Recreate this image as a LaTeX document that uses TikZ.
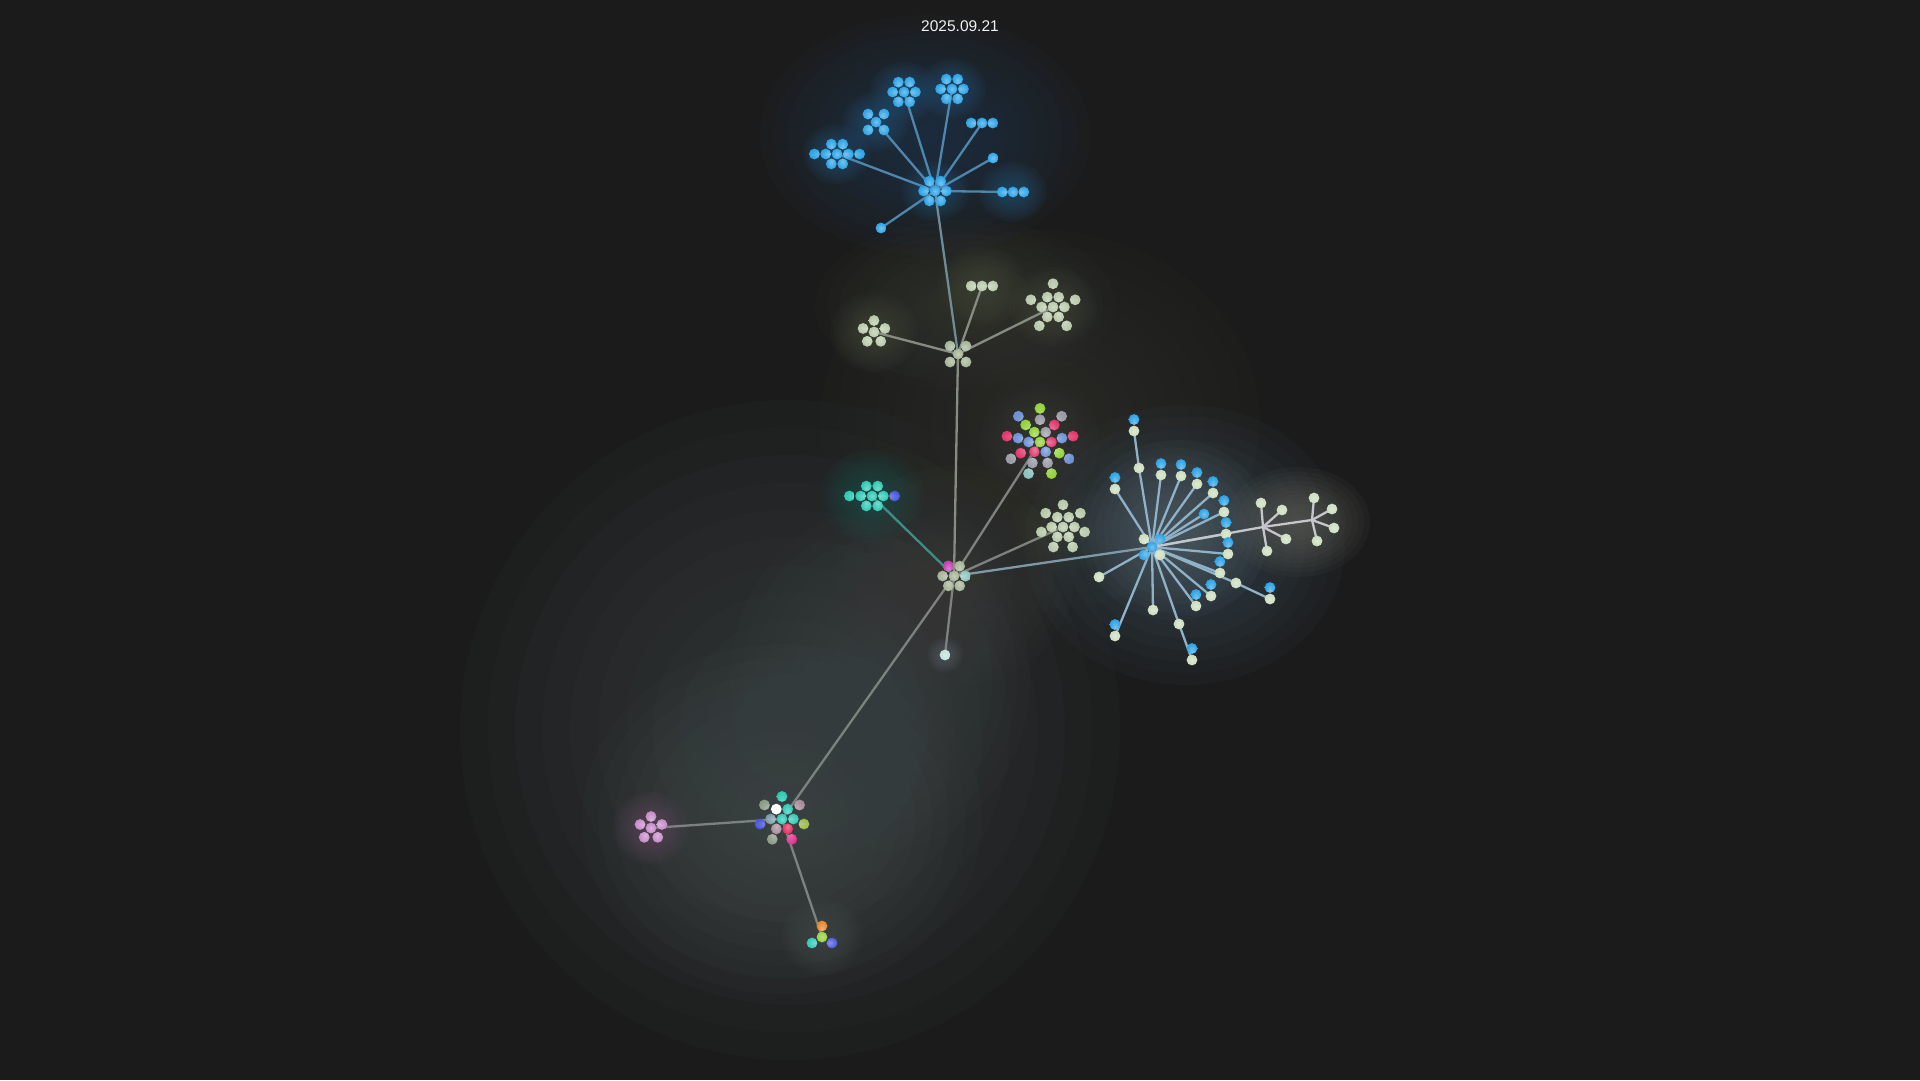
\documentclass[tikz,border=0pt]{standalone}
\usepackage{fontspec}
\setmainfont{Liberation Sans}

\definecolor{bg}{HTML}{1B1B1B}
\definecolor{skyb}{HTML}{2BA3E6}
\definecolor{sage}{HTML}{B8C9AA}
\definecolor{pale}{HTML}{CCDDBE}
\definecolor{hubg}{HTML}{A4B395}
\definecolor{tealb}{HTML}{2FC8B4}
\definecolor{indig}{HTML}{4B57DE}
\definecolor{limeb}{HTML}{95D23F}
\definecolor{rose}{HTML}{E2386E}
\definecolor{peri}{HTML}{6E92D4}
\definecolor{ash}{HTML}{9C9CA8}
\definecolor{mint}{HTML}{8CC4BE}
\definecolor{orchid}{HTML}{C68BC8}
\definecolor{magen}{HTML}{C53CB6}
\definecolor{ashg}{HTML}{8E9C88}
\definecolor{mauve}{HTML}{A88C9A}
\definecolor{bgrey}{HTML}{7A9BAA}
\definecolor{redp}{HTML}{E02C5C}
\definecolor{magp}{HTML}{E0338E}
\definecolor{ylg}{HTML}{9CBB4C}
\definecolor{orng}{HTML}{E8862A}
\definecolor{lone}{HTML}{BFE3DA}
% links
\definecolor{bluel}{HTML}{4D87AE}
\definecolor{abl}{HTML}{6F8B98}
\definecolor{greyl}{HTML}{878C82}
\definecolor{greyc}{HTML}{7E827E}
\definecolor{tealc}{HTML}{3E8C85}
\definecolor{rayc}{HTML}{8FB2C8}
\definecolor{cdl}{HTML}{7F98A8}
\definecolor{treec}{HTML}{C4C6CC}
% haze
\definecolor{hzblue}{HTML}{223D58}
\definecolor{hzblue2}{HTML}{2A5A80}
\definecolor{hzsage}{HTML}{3A3E33}
\definecolor{hzsage2}{HTML}{4A4F40}
\definecolor{hzmid}{HTML}{36372F}
\definecolor{hzteal}{HTML}{1C5A55}
\definecolor{hzray}{HTML}{3F5360}
\definecolor{hzray2}{HTML}{5A6870}
\definecolor{hztree}{HTML}{6A6C64}
\definecolor{hzlow}{HTML}{40484A}
\definecolor{hzlow2}{HTML}{4A5252}
\definecolor{hzpink}{HTML}{6A506A}
\definecolor{hzgrey}{HTML}{404040}

\tikzset{
  bead/.style={shading=radial, inner color=#1!65!white, outer color=#1},
  link/.style={line width=2.3pt, draw=#1, line cap=round},
  haze/.style={fill=#1, fill opacity=0.075},
}

\newcommand{\rb}{5.4}
% soft glow: 12 stacked ellipses
\newcommand{\glow}[4]{%
  \foreach \k in {1,...,12} {\fill[haze=#2] (#1) ellipse ({#3*\k/12} and {#4*\k/12});}}
\newcommand{\hexseven}[2]{%
  \path[bead=#2] (#1) circle (\rb);
  \foreach \a in {0,60,...,300} {\path[bead=#2] (#1) ++(\a:11.4) circle (\rb);}}
\newcommand{\xfive}[2]{%
  \path[bead=#2] (#1) circle (\rb);
  \foreach \a in {45,135,225,315} {\path[bead=#2] (#1) ++(\a:11.3) circle (\rb);}}
\newcommand{\rowthree}[2]{%
  \foreach \x in {-10.8,0,10.8} {\path[bead=#2] (#1) ++(\x,0) circle (\rb);}}
\newcommand{\penta}[2]{%
  \path[bead=#2] (#1) circle (\rb);
  \foreach \a in {270,342,54,126,198} {\path[bead=#2] (#1) ++(\a:11.5) circle (\rb);}}
\newcommand{\rowfive}[3]{%
  \foreach \x in {-22.6,-11.3,0,11.3} {\path[bead=#2] (#1) ++(\x,0) circle (\rb);}
  \path[bead=#3] (#1) ++(22.6,0) circle (\rb);
  \foreach \a in {60,120,240,300} {\path[bead=#2] (#1) ++(\a:11.4) circle (\rb);}}

\begin{document}
\begin{tikzpicture}[x=1pt, y=-1pt]

\useasboundingbox (0,0) rectangle (1920,1080);
\fill[bg] (0,0) rectangle (1920,1080);

\coordinate (hubA) at (935,191);
\coordinate (A1) at (904,92);
\coordinate (A2) at (952,89);
\coordinate (A3) at (876,122);
\coordinate (A4) at (837,154);
\coordinate (A5) at (982,123);
\coordinate (A6) at (993,158);
\coordinate (A7) at (1013,192);
\coordinate (A8) at (881,228);
\coordinate (hubB) at (958,354);
\coordinate (B1) at (874,332);
\coordinate (B2) at (982,286);
\coordinate (B3) at (1053,307);
\coordinate (hubC) at (954,576);
\coordinate (C1) at (872,496);
\coordinate (C2) at (1040,442);
\coordinate (C3) at (1063,527);
\coordinate (C4) at (945,655);
\coordinate (hubD) at (1152,547);
\coordinate (T1) at (1263,527);
\coordinate (T2) at (1312,520);
\coordinate (hubE) at (782,819);
\coordinate (E1) at (651,828);
\coordinate (E2) at (822,937);

% right fan: light end of each pair
\foreach \i/\x/\y in {1/1134/431, 2/1115/489, 3/1161/475, 4/1181/476, 5/1197/484,
    6/1213/493, 7/1224/512, 8/1226/534, 9/1228/554, 10/1220/573, 11/1211/596,
    12/1196/606, 13/1115/636, 14/1270/599, 15/1192/660}
    \coordinate (s\i) at (\x,\y);
\coordinate (k1) at (1139,468);
\coordinate (k2) at (1099,577);
\coordinate (k3) at (1153,610);
\coordinate (k4) at (1236,583);
\coordinate (k5) at (1179,624);
\coordinate (k6) at (1204,514);
\foreach \i/\x/\y in {1/1261/503, 2/1282/510, 3/1286/539, 4/1267/551,
    5/1314/498, 6/1332/509, 7/1334/528, 8/1317/541}
    \coordinate (t\i) at (\x,\y);

% glows
\glow{790,730}{hzlow}{330}{330}
\glow{hubE}{hzlow2}{200}{175}
\glow{880,680}{hzlow}{150}{170}
\glow{hubC}{hzgrey}{120}{110}
\glow{1040,420}{hzmid}{220}{190}
\glow{925,135}{hzblue}{165}{120}
\foreach \n in {hubA,A1,A2,A3,A4,A7} {\glow{\n}{hzblue2}{34}{30}}
\glow{965,305}{hzsage}{150}{85}
\foreach \n in {B1,B2,B3} {\glow{\n}{hzsage2}{44}{40}}
\glow{C1}{hzteal}{52}{46}
\glow{C2}{hzgrey}{60}{60}
\glow{C3}{hzsage}{50}{48}
\glow{1185,545}{hzray}{160}{140}
\glow{1175,530}{hzray2}{95}{90}
\glow{1298,522}{hztree}{72}{55}
\glow{E1}{hzpink}{38}{36}
\glow{E2}{hzlow2}{40}{38}
\glow{C4}{hzray2}{18}{18}

% links
\foreach \i in {1,...,8}
    \path[link=bluel] (hubA) -- (A\i);
\path[link=abl] (hubA) -- (hubB);
\foreach \i in {1,2,3}
    \path[link=greyl] (hubB) -- (B\i);
\path[link=greyl] (hubB) -- (hubC);
\path[link=tealc] (hubC) -- (C1);
\path[link=greyc] (hubC) -- (C2);
\path[link=greyc] (hubC) -- (C3);
\path[link=greyc] (hubC) -- (C4);
\path[link=cdl] (hubC) -- (hubD);
\path[link=greyc] (hubC) -- (hubE);
\path[link=greyc] (hubE) -- (E1);
\path[link=greyc] (hubE) -- (E2);

\foreach \i in {2,...,13}
    \path[link=rayc] (hubD) -- (s\i);
\path[link=rayc] (hubD) -- (k1) -- (s1);
\path[link=rayc] (hubD) -- (k4) -- (s14);
\path[link=rayc] (hubD) -- (k5) -- (s15);
\foreach \i in {2,3,6}
    \path[link=rayc] (hubD) -- (k\i);
\path[link=treec] (hubD) -- (T1) -- (T2);
\foreach \i in {1,...,4}
    \path[link=treec] (T1) -- (t\i);
\foreach \i in {5,...,8}
    \path[link=treec] (T2) -- (t\i);

% top cluster
\hexseven{hubA}{skyb}
\hexseven{A1}{skyb}
\hexseven{A2}{skyb}
\xfive{A3}{skyb}
\rowfive{A4}{skyb}{skyb}
\rowthree{A5}{skyb}
\path[bead=skyb] (A6) circle (\rb);
\rowthree{A7}{skyb}
\path[bead=skyb] (A8) circle (\rb);

% second hub
\xfive{hubB}{hubg}
\penta{B1}{sage}
\rowthree{B2}{sage}
\hexseven{B3}{sage}
\foreach \a in {270,342,54,126,198}
    \path[bead=sage] (B3) ++(\a:23.3) circle (\rb);

% third hub
\hexseven{hubC}{hubg}
\path[bead=magen] (hubC) ++(240:11.4) circle (\rb);
\path[bead=mint] (hubC) ++(0:11.4) circle (\rb);
\rowfive{C1}{tealb}{indig}
\path[bead=limeb] (C2) circle (\rb);
\foreach \a/\c in {240/limeb, 300/ash, 180/peri, 0/rose, 120/rose, 60/peri}
    \path[bead=\c] (C2) ++(\a:11.4) circle (\rb);
\foreach \a/\c in {270/ash, 230/limeb, 310/rose, 190/peri, 350/peri,
    150/rose, 30/limeb, 110/ash, 70/ash}
    \path[bead=\c] (C2) ++(\a:22.3) circle (\rb);
\foreach \a/\c in {270/limeb, 230/peri, 310/ash, 190/rose, 350/rose,
    150/ash, 30/peri, 110/mint, 70/limeb}
    \path[bead=\c] (C2) ++(\a:33.6) circle (\rb);
\hexseven{C3}{sage}
\foreach \a in {270,321.4,12.9,64.3,115.7,167.1,218.6}
    \path[bead=sage] (C3) ++(\a:22.2) circle (\rb);
\path[bead=lone] (C4) circle (\rb);

% right fan
\path[bead=skyb] (hubD) circle (\rb);
\foreach \a/\c in {225/pale, 315/skyb, 135/skyb, 45/pale}
    \path[bead=\c] (hubD) ++(\a:11.3) circle (\rb);
\foreach \i in {1,...,15} {
    \path[bead=pale] (s\i) circle (\rb);
    \path[bead=skyb] (s\i) ++(0,-11.5) circle (\rb);
}
\foreach \i in {1,...,5}
    \path[bead=pale] (k\i) circle (\rb);
\path[bead=skyb] (k6) circle (\rb);
\foreach \i in {1,...,8}
    \path[bead=pale] (t\i) circle (\rb);

% lower hub
\path[bead=tealb] (hubE) circle (\rb);
\foreach \a/\c in {240/white, 300/tealb, 180/bgrey, 0/tealb, 120/mauve, 60/redp}
    \path[bead=\c] (hubE) ++(\a:11.4) circle (\rb);
\foreach \a/\c in {270/tealb, 218.6/ashg, 321.4/mauve, 12.9/ylg, 167.1/indig,
    115.7/ashg, 64.3/magp}
    \path[bead=\c] (hubE) ++(\a:22.5) circle (\rb);
\penta{E1}{orchid}
\path[bead=limeb] (E2) circle (\rb);
\path[bead=orng] (E2) ++(0,-11) circle (\rb);
\path[bead=tealb] (E2) ++(-10,6) circle (\rb);
\path[bead=indig] (E2) ++(10,6) circle (\rb);

\node[text=white!94!black, font=\fontsize{15.5}{18}\selectfont] (title) at (960,26) {2025.09.21};

\end{tikzpicture}
\end{document}
